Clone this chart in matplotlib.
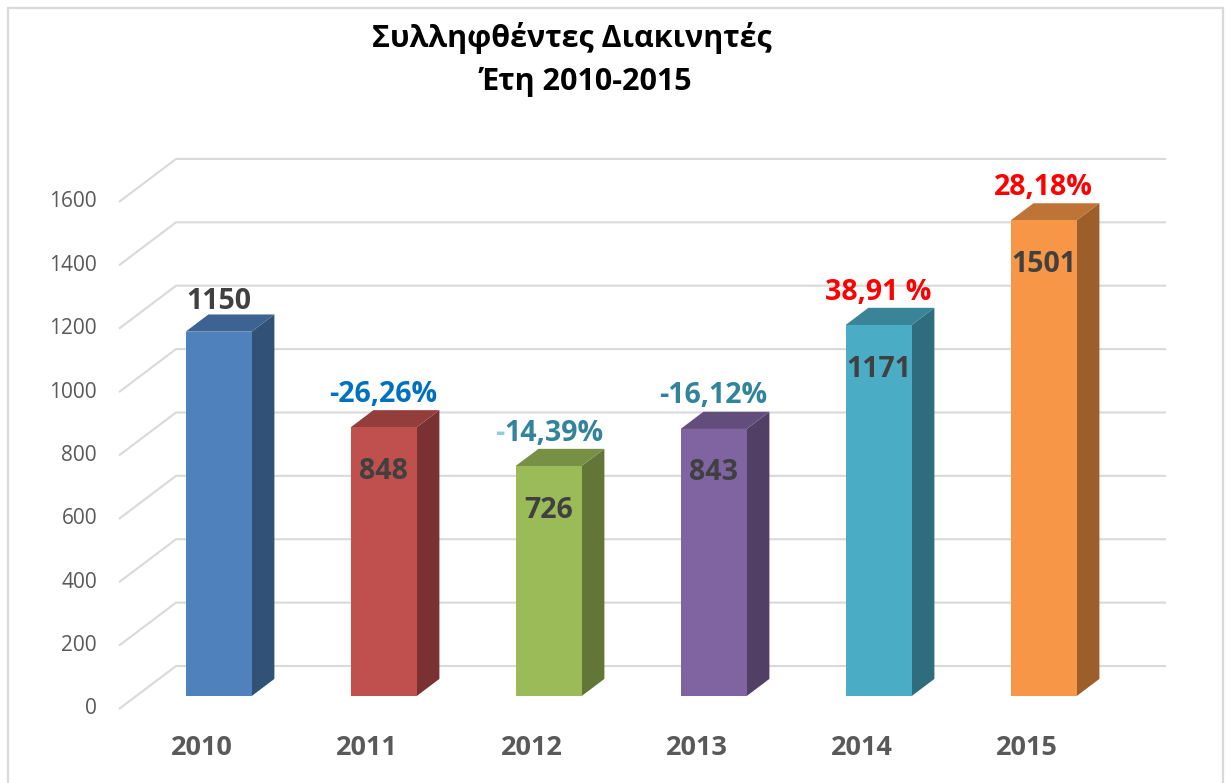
import numpy as np
import matplotlib.pyplot as plt
from matplotlib.patches import Polygon, Rectangle
from matplotlib.colors import to_rgb

# data
years = ['2010', '2011', '2012', '2013', '2014', '2015']
arrests = [1150, 848, 726, 843, 1171, 1501]
changes = ['', '-26,26%', '-14,39%', '-16,12%', '38,91 %', '28,18%']
change_colors = ['#404040', '#0070C0', '#31849B', '#31849B', '#FF0000', '#FF0000']
bar_colors = ['#4F81BD', '#C0504D', '#9BBB59', '#8064A2', '#4BACC6', '#F79646']
yticks = [0, 200, 400, 600, 800, 1000, 1200, 1400, 1600]

FONT = ['Open Sans', 'DejaVu Sans']
plt.rcParams['font.family'] = FONT

# pixel layout of the pseudo-3D Excel chart
W, H = 1226, 783
PX_CAT = 165.0      # px per category
PX_VAL = 0.3169     # px per unit value
X0, Y0 = 119, 709   # front-left corner of the floor (px from top-left)
DX = 57 / PX_CAT    # full depth offset in category units
DY = 43 / PX_VAL    # full depth offset in value units
BAR_W = 0.4
D_FRONT, D_BACK = 0.3, 0.7


def p(x, y, d):
    # project a point at depth d (0 = front, 1 = back wall)
    return (x + d * DX, y + d * DY)


fig = plt.figure(figsize=(W / 100, H / 100), dpi=100)
ax = fig.add_axes([0, 0, 1, 1])
ax.set_xlim(-0.5 - X0 / PX_CAT, -0.5 + (W - X0) / PX_CAT)
ax.set_ylim(-(H - Y0) / PX_VAL, Y0 / PX_VAL)
ax.axis('off')

# outer frame
fig.patches.append(Rectangle((8 / W, -0.01), (1223 - 8) / W, 1 - 8 / H + 0.01,
                             transform=fig.transFigure, fill=False,
                             edgecolor='#D9D9D9', lw=1.6))

n = len(years)
left, right = -0.5, n - 0.5
grid_c = '#D9D9D9'
for v in yticks:
    a = p(left, v, 0)
    b = p(left, v, 1)
    c = p(right, v, 1)
    ax.plot([a[0], b[0], c[0]], [a[1], b[1], c[1]], color=grid_c, lw=1.5,
            zorder=1, solid_capstyle='butt')
    ax.text(left - 22 / PX_CAT, v, str(v), ha='right', va='center',
            fontsize=15, color='#595959')


def shade(col, f):
    r, g, b = to_rgb(col)
    return (r * f, g * f, b * f)


for i, (v, col) in enumerate(zip(arrests, bar_colors)):
    xl, xr = i - BAR_W / 2, i + BAR_W / 2
    front = [p(xl, 0, D_FRONT), p(xr, 0, D_FRONT), p(xr, v, D_FRONT), p(xl, v, D_FRONT)]
    side = [p(xr, 0, D_FRONT), p(xr, 0, D_BACK), p(xr, v, D_BACK), p(xr, v, D_FRONT)]
    top = [p(xl, v, D_FRONT), p(xr, v, D_FRONT), p(xr, v, D_BACK), p(xl, v, D_BACK)]
    ax.add_patch(Polygon(side, closed=True, facecolor=shade(col, 0.63), edgecolor='none', zorder=3))
    ax.add_patch(Polygon(top, closed=True, facecolor=shade(col, 0.77), edgecolor='none', zorder=3))
    ax.add_patch(Polygon(front, closed=True, facecolor=col, edgecolor='none', zorder=4))

    cx, ty = p(i, v, D_FRONT)
    above = ty + 33 / PX_VAL
    inside = ty - 44 / PX_VAL
    if i == 0:
        ax.text(cx, ty + 30 / PX_VAL, str(v), ha='center', va='center', fontsize=20.5,
                fontweight='bold', color='#404040', zorder=5)
    else:
        ax.text(cx, inside, str(v), ha='center', va='center', fontsize=20.5,
                fontweight='bold', color='#404040', zorder=5)
        if i == 2:
            # the minus sign is drawn lighter in the original
            t = ax.text(cx + 5 / PX_CAT, above, changes[i][1:], ha='center', va='center',
                        fontsize=20.5, fontweight='bold', color=change_colors[i], zorder=5)
            ax.annotate('-', xy=(0, 0.5), xycoords=t, ha='right', va='center',
                        fontsize=20.5, fontweight='bold', color='#92CDDC', zorder=5)
        else:
            ax.text(cx, above, changes[i], ha='center', va='center', fontsize=20.5,
                    fontweight='bold', color=change_colors[i], zorder=5)

    ax.text(i, -(748 - Y0) / PX_VAL, years[i], ha='center', va='center',
            fontsize=19.5, fontweight='bold', color='#595959')

fig.text(572 / W, 1 - 38 / H, 'Συλληφθέντες Διακινητές', ha='center', va='center',
         fontsize=22, fontweight='bold', color='black')
fig.text(586 / W, 1 - 82 / H, 'Έτη 2010-2015', ha='center', va='center',
         fontsize=22, fontweight='bold', color='black')

fig.savefig('out.png', dpi=100, facecolor='white')
